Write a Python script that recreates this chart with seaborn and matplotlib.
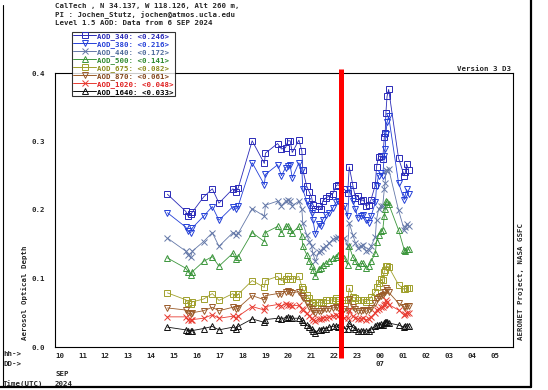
import matplotlib
matplotlib.use("Agg")
import matplotlib.pyplot as plt
from matplotlib.lines import Line2D
import seaborn as sns
import pandas as pd

# Measurement times, hours UTC counted from 00:00 on 6 SEP 2024 (24 = 00 on 7 SEP)
times = [14.91, 15.71, 15.81, 15.93, 16.00, 16.49, 16.87, 17.16, 17.77, 17.89, 18.00, 18.61, 19.14, 19.19, 19.72,
         19.89, 20.07, 20.17, 20.27, 20.36, 20.65, 20.78, 20.82, 20.99,
         21.11, 21.21, 21.26, 21.37, 21.52, 21.62, 21.69, 21.84, 21.98,
         22.13, 22.27, 22.35, 22.64, 22.78, 22.85,
         23.00, 23.12, 23.22, 23.36, 23.46, 23.58, 23.69, 23.80, 23.99,
         24.04, 24.13, 24.23, 24.31, 24.38, 24.42, 24.45, 24.50, 24.57,
         25.00, 25.25, 25.30, 25.35, 25.44]

aod_340 = [0.223, 0.198, 0.191, 0.194, 0.197, 0.219, 0.231, 0.210, 0.231, 0.226, 0.232, 0.301, 0.268, 0.283, 0.297,
           0.289, 0.291, 0.301, 0.301, 0.284, 0.302, 0.286, 0.259, 0.235,
           0.226, 0.218, 0.208, 0.201, 0.206, 0.201, 0.213, 0.218, 0.220,
           0.224, 0.235, 0.237, 0.230, 0.225, 0.263,
           0.237, 0.218, 0.220, 0.213, 0.215, 0.206, 0.208, 0.215, 0.237,
           0.263, 0.278, 0.279, 0.274, 0.306, 0.313, 0.342, 0.366, 0.376,
           0.276, 0.250, 0.255, 0.267, 0.259]
aod_380 = [0.196, 0.175, 0.169, 0.167, 0.174, 0.191, 0.205, 0.185, 0.205, 0.201, 0.206, 0.269, 0.237, 0.252, 0.266,
           0.250, 0.262, 0.264, 0.265, 0.247, 0.269, 0.259, 0.230, 0.213,
           0.206, 0.196, 0.186, 0.165, 0.179, 0.176, 0.186, 0.193, 0.196,
           0.203, 0.211, 0.213, 0.206, 0.191, 0.230,
           0.213, 0.201, 0.189, 0.191, 0.193, 0.186, 0.181, 0.191, 0.211,
           0.235, 0.250, 0.254, 0.250, 0.279, 0.289, 0.311, 0.328, 0.337,
           0.240, 0.215, 0.222, 0.230, 0.223]
aod_440 = [0.159, 0.140, 0.135, 0.132, 0.140, 0.154, 0.167, 0.147, 0.167, 0.164, 0.166, 0.202, 0.191, 0.207, 0.213,
           0.206, 0.213, 0.214, 0.213, 0.206, 0.213, 0.201, 0.181, 0.164,
           0.154, 0.147, 0.137, 0.125, 0.139, 0.140, 0.145, 0.147, 0.152,
           0.157, 0.159, 0.161, 0.159, 0.147, 0.181,
           0.164, 0.152, 0.145, 0.147, 0.149, 0.140, 0.142, 0.147, 0.161,
           0.186, 0.201, 0.206, 0.206, 0.230, 0.240, 0.259, 0.257, 0.260,
           0.200, 0.171, 0.175, 0.180, 0.176]
aod_500 = [0.130, 0.115, 0.110, 0.105, 0.110, 0.125, 0.132, 0.118, 0.137, 0.128, 0.132, 0.167, 0.154, 0.167, 0.176,
           0.167, 0.176, 0.177, 0.171, 0.167, 0.176, 0.162, 0.147, 0.135,
           0.125, 0.118, 0.113, 0.103, 0.114, 0.115, 0.120, 0.122, 0.125,
           0.130, 0.132, 0.135, 0.130, 0.120, 0.147,
           0.132, 0.125, 0.118, 0.122, 0.122, 0.115, 0.118, 0.125, 0.137,
           0.154, 0.164, 0.169, 0.171, 0.191, 0.201, 0.213, 0.211, 0.209,
           0.171, 0.142, 0.140, 0.143, 0.143]
aod_675 = [0.079, 0.069, 0.064, 0.063, 0.066, 0.070, 0.078, 0.068, 0.078, 0.073, 0.077, 0.097, 0.087, 0.097, 0.103,
           0.097, 0.100, 0.104, 0.100, 0.099, 0.103, 0.088, 0.084, 0.076,
           0.071, 0.066, 0.064, 0.062, 0.066, 0.064, 0.066, 0.068, 0.068,
           0.069, 0.071, 0.069, 0.068, 0.068, 0.086,
           0.073, 0.071, 0.068, 0.068, 0.069, 0.066, 0.068, 0.073, 0.081,
           0.088, 0.093, 0.099, 0.098, 0.110, 0.113, 0.118, 0.118, 0.117,
           0.091, 0.084, 0.085, 0.086, 0.086]
aod_870 = [0.057, 0.054, 0.049, 0.048, 0.050, 0.053, 0.058, 0.053, 0.058, 0.055, 0.057, 0.075, 0.069, 0.075, 0.078,
           0.077, 0.081, 0.082, 0.080, 0.079, 0.081, 0.075, 0.071, 0.064,
           0.059, 0.056, 0.052, 0.050, 0.053, 0.053, 0.056, 0.056, 0.056,
           0.057, 0.058, 0.057, 0.056, 0.053, 0.070,
           0.058, 0.056, 0.053, 0.053, 0.054, 0.052, 0.054, 0.057, 0.064,
           0.070, 0.073, 0.075, 0.076, 0.080, 0.081, 0.086, 0.083, 0.080,
           0.064, 0.058, 0.059, 0.060, 0.060]
aod_1020 = [0.044, 0.044, 0.040, 0.039, 0.040, 0.042, 0.047, 0.042, 0.045, 0.043, 0.045, 0.059, 0.054, 0.059, 0.062,
            0.060, 0.063, 0.062, 0.061, 0.060, 0.061, 0.056, 0.054, 0.049,
            0.045, 0.042, 0.040, 0.038, 0.041, 0.041, 0.043, 0.043, 0.044,
            0.045, 0.047, 0.045, 0.043, 0.042, 0.054,
            0.045, 0.043, 0.041, 0.041, 0.042, 0.040, 0.041, 0.044, 0.050,
            0.054, 0.055, 0.058, 0.058, 0.061, 0.063, 0.069, 0.065, 0.062,
            0.054, 0.047, 0.048, 0.049, 0.049]
aod_1640 = [0.029, 0.025, 0.024, 0.023, 0.024, 0.027, 0.030, 0.025, 0.029, 0.027, 0.030, 0.041, 0.036, 0.040, 0.042,
            0.041, 0.043, 0.044, 0.043, 0.042, 0.042, 0.039, 0.036, 0.032,
            0.029, 0.026, 0.024, 0.021, 0.025, 0.025, 0.027, 0.027, 0.029,
            0.030, 0.031, 0.029, 0.027, 0.026, 0.035,
            0.029, 0.026, 0.023, 0.023, 0.024, 0.023, 0.024, 0.026, 0.030,
            0.032, 0.032, 0.034, 0.032, 0.035, 0.036, 0.037, 0.036, 0.035,
            0.032, 0.029, 0.030, 0.031, 0.031]

channels = ["AOD_340", "AOD_380", "AOD_440", "AOD_500", "AOD_675", "AOD_870", "AOD_1020", "AOD_1640"]
daily_means = [0.246, 0.216, 0.172, 0.141, 0.082, 0.061, 0.048, 0.033]
series = [aod_340, aod_380, aod_440, aod_500, aod_675, aod_870, aod_1020, aod_1640]

hour_ticks = list(range(10, 30))
hour_labels = ["10", "11", "12", "13", "14", "15", "16", "17", "18", "19", "20",
               "21", "22", "23", "00", "01", "02", "03", "04", "05"]
y_ticks = [0.0, 0.1, 0.2, 0.3, 0.4]
marked_hour = 22.5

colors = ["#2a2ab8", "#2440d8", "#6478a8", "#3c963c", "#a0a02c", "#9a5a28", "#e83a30", "#101010"]
label_colors = ["#2a2ab8", "#2440d8", "#506c9c", "#2f8a2f", "#8c8c1c", "#84461c", "#e02020", "#000000"]
markers = ["s", "v", "x", "^", "s", "v", "x", "^"]

sns.set_style("white")
plt.rcParams["font.family"] = ["DejaVu Sans Mono", "DejaVu Sans"]
plt.rcParams["font.weight"] = "bold"
FS = 5.3

W, H = 548, 390
fig = plt.figure(figsize=(W / 100, H / 100), dpi=100)
ax = fig.add_axes([55 / W, 1 - 347 / H, 458 / W, 274 / H])

df = pd.DataFrame({"time": times})
for name, vals, c, m in zip(channels, series, colors, markers):
    df[name] = vals
    sns.lineplot(data=df, x="time", y=name, ax=ax, color=c, marker=m,
                 markersize=4.8, markerfacecolor="none", markeredgecolor=c,
                 markeredgewidth=0.7, linewidth=0.6, estimator=None,
                 sort=False, legend=False)

ax.set_xlim(10, 30)
ax.set_ylim(0, 0.4)
ax.set_xlabel("")
ax.set_ylabel("")
ax.set_xticks(hour_ticks)
ax.set_xticklabels(hour_labels, ha="left", fontsize=FS)
ax.set_yticks(y_ticks)
ax.set_yticklabels([f"{v:.1f}" for v in y_ticks], fontsize=FS)
ax.tick_params(axis="x", direction="out", length=6, width=0.7, pad=-2)
ax.tick_params(axis="y", direction="out", length=3, width=0.7, pad=4)
for sp in ax.spines.values():
    sp.set_color("black")
    sp.set_linewidth(0.8)

# highlighted time
ax.axvline(marked_hour, ymin=-0.04, ymax=1.015, color="red", linewidth=3.6,
           solid_capstyle="butt", clip_on=False, zorder=5)

# legend with per-channel daily means
handles = [Line2D([0], [0], color=c, marker=m, markersize=4.8, markerfacecolor="none",
                  markeredgecolor=c, markeredgewidth=0.7, linewidth=0.7)
           for c, m in zip(colors, markers)]
labels = [f"{n}: <{v:.3f}>" for n, v in zip(channels, daily_means)]
leg = fig.legend(handles, labels, loc="upper left",
                 bbox_to_anchor=(72 / W, 1 - 32 / H), fontsize=FS, frameon=True,
                 fancybox=False, borderpad=0.12, labelspacing=0.12,
                 handlelength=3.2, handletextpad=0.1, borderaxespad=0)
leg.get_frame().set_edgecolor("black")
leg.get_frame().set_linewidth(0.8)
leg.set_zorder(10)
for t, c in zip(leg.get_texts(), label_colors):
    t.set_color(c)


def ftext(x, y, s, **kw):
    fig.text(x / W, 1 - y / H, s, fontsize=FS, **kw)


ftext(55, 6, "CalTech , N 34.137, W 118.126, Alt 260 m,", va="center")
ftext(55, 14.7, "PI : Jochen_Stutz, jochen@atmos.ucla.edu", va="center")
ftext(55, 23, "Level 1.5 AOD: Data from 6 SEP 2024", va="center")
ftext(511, 69, "Version 3 D3", ha="right", va="center")
ftext(25, 340, "Aerosol Optical Depth", rotation=90, ha="center", va="bottom")
ftext(521, 340, "AERONET Project, NASA GSFC", rotation=90, ha="center", va="bottom")
ftext(3, 354.5, "hh->", va="center")
ftext(3, 364.5, "DD->", va="center")
ftext(375, 364.5, "07", va="center")
ftext(55, 374.5, "SEP", va="center")
ftext(3, 384, "Time(UTC)", va="center")
ftext(55, 384, "2024", va="center")

# page frame
fig.add_artist(Line2D([2.5 / W, 2.5 / W], [1 - 5 / H, 1 - 387 / H], color="black", linewidth=0.8))
fig.add_artist(Line2D([0, 531 / W], [1 - 387 / H, 1 - 387 / H], color="black", linewidth=1.6))
fig.add_artist(Line2D([531 / W, 531 / W], [1, 1 - 387 / H], color="black", linewidth=1.6))

fig.savefig("out.png", dpi=100)
